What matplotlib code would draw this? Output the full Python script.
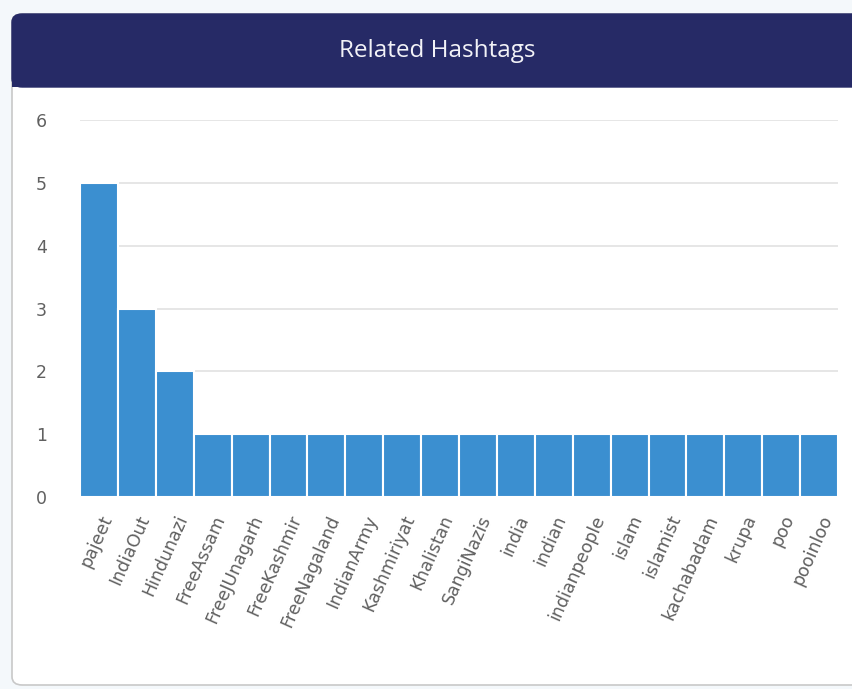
import matplotlib.pyplot as plt
from matplotlib.patches import FancyBboxPatch, Rectangle
import numpy as np

hashtags = ['pajeet', 'IndiaOut', 'Hindunazi', 'FreeAssam', 'FreeJUnagarh', 'FreeKashmir',
            'FreeNagaland', 'IndianArmy', 'Kashmiriyat', 'Khalistan', 'SangiNazis', 'india',
            'indian', 'indianpeople', 'islam', 'islamist', 'kachabadam', 'krupa', 'poo', 'pooinloo']
counts = [5, 3, 2, 1, 1, 1, 1, 1, 1, 1, 1, 1, 1, 1, 1, 1, 1, 1, 1, 1]
y_ticks = [0, 1, 2, 3, 4, 5, 6]

plt.rcParams['font.family'] = ['DejaVu Sans']

W, H = 852, 689
fig = plt.figure(figsize=(W / 100, H / 100), dpi=100)
fig.patch.set_facecolor('#f4f8fb')

# card body + header
card = FancyBboxPatch((12 / W, 4 / H), 860 / W, (675 - 4) / H,
                      boxstyle='round,pad=0,rounding_size=0.012',
                      transform=fig.transFigure, facecolor='white',
                      edgecolor='#c8c8c8', linewidth=1.2, zorder=-2)
fig.patches.append(card)
header = FancyBboxPatch((12 / W, 602 / H), 860 / W, (675 - 602) / H,
                        boxstyle='round,pad=0,rounding_size=0.012',
                        transform=fig.transFigure, facecolor='#262a66',
                        edgecolor='#262a66', linewidth=1, zorder=-1)
fig.patches.append(header)
fig.patches.append(Rectangle((12 / W, 602 / H), 860 / W, 20 / H, transform=fig.transFigure,
                             facecolor='#262a66', edgecolor='none', zorder=-1))
fig.text(437 / W, (689 - 51) / H, 'Related Hashtags', color='#f2f2f7', fontsize=17.5,
         family=['Open Sans', 'DejaVu Sans'], ha='center', va='center', zorder=2)

ax = fig.add_axes([80 / W, 192 / H, 758 / W, 377 / H])
ax.set_zorder(3)
ax.set_facecolor('none')
x = np.arange(len(hashtags))
ax.bar(x, counts, width=1.0, color='#3b8fd0', edgecolor='white', linewidth=1.5, zorder=2)

ax.set_xlim(-0.5, len(hashtags) - 0.5)
ax.set_ylim(0, 6)
ax.set_yticks(y_ticks)
ax.set_yticklabels([str(v) for v in y_ticks])
ax.yaxis.grid(True, color='#e2e2e2', linewidth=1.2, zorder=0)
ax.set_axisbelow(True)
for s in ax.spines.values():
    s.set_visible(False)

ax.set_xticks(x)
ax.set_xticklabels(hashtags, rotation=66, ha='right', va='top', rotation_mode='anchor')
ax.tick_params(axis='x', length=0, pad=11, labelsize=12.5, labelcolor='#606060')
ax.tick_params(axis='y', length=0, pad=24, labelsize=12.5, labelcolor='#606060')

fig.savefig('out.png', dpi=100, facecolor=fig.get_facecolor())
